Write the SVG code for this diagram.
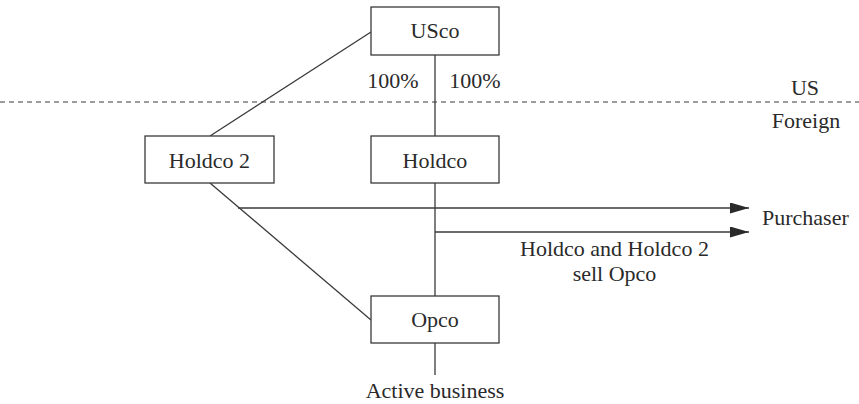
<svg xmlns="http://www.w3.org/2000/svg" width="859" height="404" viewBox="0 0 859 404">
<style>
.box{fill:#fff;stroke:#3a3a3a;stroke-width:1.3}
.ln{fill:none;stroke:#3a3a3a;stroke-width:1.3}
.m{text-anchor:middle}
</style>
<defs>
<marker id="ah" markerWidth="19" markerHeight="11" refX="19" refY="5.5" orient="auto" markerUnits="userSpaceOnUse">
<path d="M0,0 L19,5.5 L0,11 Z" fill="#2a2a2a"/>
</marker>
</defs>
<rect width="859" height="404" fill="#fff"/>
<g font-family="Liberation Serif, DejaVu Serif, serif" font-size="22" fill="#2a2a2a">
<line x1="0" y1="102" x2="859" y2="102" stroke="#3a3a3a" stroke-width="1.2" stroke-dasharray="5,4"/>
<text x="805" y="95" class="m">US</text>
<text x="806" y="128" class="m">Foreign</text>
<g id="connectors">
<line class="ln" x1="435" y1="55" x2="435" y2="136"/>
<line class="ln" x1="435" y1="183" x2="435" y2="296"/>
<line class="ln" x1="435" y1="343" x2="435" y2="375"/>
<line class="ln" x1="210" y1="136" x2="371" y2="32"/>
<line class="ln" x1="210" y1="183" x2="371" y2="320"/>
<line class="ln" x1="238" y1="208" x2="749" y2="208" marker-end="url(#ah)"/>
<line class="ln" x1="435" y1="232" x2="749" y2="232" marker-end="url(#ah)"/>
<text x="393" y="88" class="m">100%</text>
<text x="475" y="88" class="m">100%</text>
<text x="762" y="225">Purchaser</text>
<text x="614.5" y="256" class="m">Holdco and Holdco 2</text>
<text x="614.5" y="281" class="m">sell Opco</text>
<text x="435" y="398" class="m">Active business</text>
</g>
<g id="usco"><rect class="box" x="371" y="7" width="128" height="48"/><text x="435" y="38" class="m">USco</text></g>
<g id="holdco2"><rect class="box" x="145" y="136" width="129" height="47"/><text x="209.5" y="168" class="m">Holdco 2</text></g>
<g id="holdco"><rect class="box" x="371" y="136" width="128" height="47"/><text x="435" y="168" class="m">Holdco</text></g>
<g id="opco"><rect class="box" x="371" y="296" width="128" height="47"/><text x="435" y="327" class="m">Opco</text></g>
</g>
</svg>
